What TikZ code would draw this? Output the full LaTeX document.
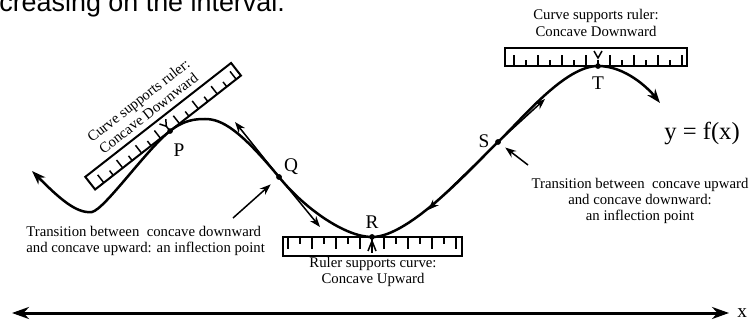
\documentclass[tikz,border=0pt]{standalone}
\usepackage{fontspec}
\setmainfont{Liberation Serif}
\newfontfamily\slidefont{Liberation Sans}
\usetikzlibrary{arrows.meta, positioning}

\tikzstyle{fcurve} = [line width=0.5mm, {Stealth[length=2.8mm,width=2mm]}-{Stealth[length=2.8mm,width=2mm]}]
\tikzstyle{axis} = [line width=0.6mm, {Stealth[length=3.4mm,width=2.4mm]}-{Stealth[length=3.4mm,width=2.4mm]}]
\tikzstyle{ruler} = [draw, line width=0.4mm, fill=white]
\tikzstyle{rulertick} = [line width=0.3mm]
\tikzstyle{note} = [align=center, inner sep=0pt, font=\fontsize{8.4}{9.2}\selectfont]
\tikzstyle{ptlabel} = [inner sep=0pt, font=\fontsize{11}{12}\selectfont]
\tikzstyle{ptdot} = [circle, fill=black, inner sep=0pt, minimum size=1.1mm]
\tikzstyle{arrow} = [line width=0.3mm, -{Stealth[length=2.2mm,width=1.6mm]}]

\begin{document}
\begin{tikzpicture}[x=0.2mm, y=-0.2mm]
    \clip (0,0) rectangle (749,327);

    % slide text cut off at the top
    \node (heading) [anchor=base west, inner sep=0pt, font=\slidefont\fontsize{15.3}{18}\selectfont] at (-1,12) {creasing on the interval.};

    % points on the curve
    \node (p) [ptdot] at (170,131) {};
    \node (q) [ptdot] at (279,177) {};
    \node (r) [ptdot] at (372,237) {};
    \node (s) [ptdot] at (498,142) {};
    \node (t) [ptdot] at (598,66) {};
    \coordinate (lefttip) at (32,171);
    \coordinate (low) at (92,212);
    \coordinate (hump) at (205,119);
    \coordinate (righttip) at (660,103);

    % ruler touching at P
    \begin{scope}[shift={(p)}, rotate=38]
        \draw [ruler] (-95,0) rectangle (90,-16);
        \foreach \u in {-84,-60,...,84} \draw [rulertick] (\u,0) -- (\u,-10);
        \foreach \u in {-72,-48,...,72} \draw [rulertick] (\u,0) -- (\u,-6);
        \draw [rulertick] (-4,-12) -- (0,-6) -- (4,-12);
        \node [note, rotate=38, anchor=south] at (-6,-22) {Curve supports ruler:\\Concave Downward};
    \end{scope}

    % ruler touching at T
    \begin{scope}[shift={(t)}]
        \draw [ruler] (-93,0) rectangle (89,-18);
        \foreach \u in {-84,-60,...,84} \draw [rulertick] (\u,0) -- (\u,-11);
        \foreach \u in {-72,-48,...,72} \draw [rulertick] (\u,0) -- (\u,-6);
        \draw [rulertick] (-4,-15) -- (0,-8) -- (4,-15);
    \end{scope}
    \node (toptext) [note] at (596,23) {Curve supports ruler:\\Concave Downward};

    % ruler under R
    \begin{scope}[shift={(r)}]
        \draw [ruler] (-89,0) rectangle (90,19);
        \foreach \u in {-84,-60,...,84} \draw [rulertick] (\u,0) -- (\u,12);
        \foreach \u in {-72,-48,...,72} \draw [rulertick] (\u,0) -- (\u,7);
        \draw [rulertick] (0,0) -- (0,16);
        \draw [rulertick] (-4,14) -- (0,4) -- (4,14);
    \end{scope}
    \node (bottomtext) [note] at (373,272) {Ruler supports curve:\\Concave Upward};

    % the curve
    \draw [fcurve] (lefttip) .. controls (58,197) and (76,214) .. (low)
        .. controls (105,209) and (146,150) .. (p.center)
        .. controls (184,120) and (195,119) .. (hump)
        .. controls (222,119) and (240,130) .. (q.center)
        .. controls (304,208) and (345,237) .. (r.center)
        .. controls (410,237) and (473,166) .. (s.center)
        .. controls (523,118) and (565,66) .. (t.center)
        .. controls (625,66) and (648,88) .. (righttip);
    \node [ptdot] at (p) {};
    \node [ptdot] at (q) {};
    \node [ptdot] at (r) {};
    \node [ptdot] at (s) {};
    \node [ptdot] at (t) {};

    % labels
    \node [ptlabel, xshift=1.8mm, yshift=-3.8mm] at (p) {P};
    \node [ptlabel, xshift=2.4mm, yshift=2mm] at (q) {Q};
    \node [ptlabel, yshift=3mm] at (r) {R};
    \node [ptlabel, xshift=-2.8mm, yshift=0.2mm] at (s) {S};
    \node [ptlabel, yshift=-3.4mm] at (t) {T};
    \node (fx) [font=\fontsize{14}{16}\selectfont, inner sep=0pt] at (702,133) {y = f(x)};

    % tangent arrows
    \coordinate (qup) at (235,122);
    \coordinate (qdown) at (320,227);
    \coordinate (sdown) at (428,210);
    \coordinate (sup) at (545,99);
    \draw [arrow] (q) -- (qup);
    \draw [arrow] (q) -- (qdown);
    \draw [arrow] (s) -- (sdown);
    \draw [arrow] (s) -- (sup);

    % inflection notes
    \node (leftnote) [note, align=left, anchor=west] at (26,241) {Transition between\ \ concave downward\\and concave upward: an inflection point};
    \node (rightnote) [note] at (640,201) {Transition between\ \ concave upward\\and concave downward:\\an inflection point};
    \coordinate (lefttail) at (233,218);
    \coordinate (righttail) at (528,165);
    \draw [arrow, shorten >=1.6mm] (lefttail) -- (q);
    \draw [arrow, shorten >=1.2mm] (righttail) -- (s);

    % x axis
    \coordinate (axleft) at (12,313);
    \coordinate (axright) at (729,313);
    \draw [axis] (axleft) -- (axright);
    \node (xlabel) [ptlabel, anchor=west] at (737,313) {x};

\end{tikzpicture}
\end{document}
